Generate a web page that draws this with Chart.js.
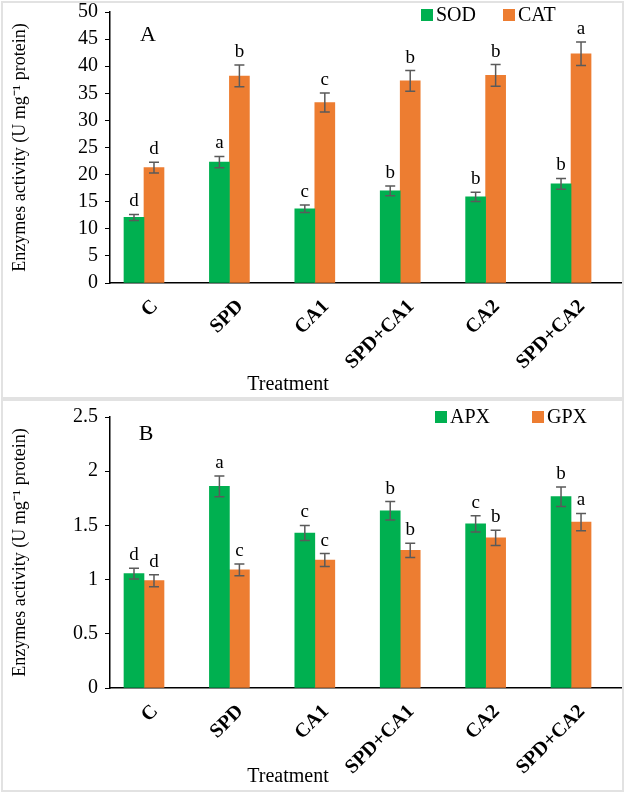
<!DOCTYPE html>
<html><head><meta charset="utf-8">
<script src="https://cdn.jsdelivr.net/npm/chart.js@4.4.1/dist/chart.umd.min.js"></script>
<style>
html,body{margin:0;padding:0;background:#fff;}
#wrap{position:relative;width:625px;height:793px;overflow:hidden;background:#fff;}
.frame{position:absolute;border:2px solid #e2e2e2;box-sizing:border-box;}
canvas{position:absolute;left:0;}
</style></head><body>
<div id="wrap">
<div class="frame" style="left:1px;top:1px;width:623px;height:398px"></div>
<div class="frame" style="left:1px;top:399px;width:623px;height:393px"></div>
<canvas id="cA" width="625" height="398" style="top:0"></canvas>
<canvas id="cB" width="625" height="395" style="top:398px"></canvas>
</div>
<script>
// ---------- data ----------
const categories = ['C', 'SPD', 'CA1', 'SPD+CA1', 'CA2', 'SPD+CA2'];

const sodValues  = [12.1, 22.3, 13.7, 17.0, 15.9, 18.3];
const sodErrors  = [0.55, 1.05, 0.7, 0.9, 0.85, 1.0];
const sodLetters = ['d', 'a', 'c', 'b', 'b', 'b'];

const catValues  = [21.3, 38.2, 33.3, 37.3, 38.3, 42.3];
const catErrors  = [1.0, 2.0, 1.75, 1.9, 2.0, 2.15];
const catLetters = ['d', 'b', 'c', 'b', 'b', 'a'];

const apxValues  = [1.055, 1.86, 1.43, 1.635, 1.515, 1.765];
const apxErrors  = [0.05, 0.095, 0.07, 0.085, 0.075, 0.09];
const apxLetters = ['d', 'a', 'c', 'b', 'c', 'b'];

const gpxValues  = [0.99, 1.09, 1.18, 1.27, 1.385, 1.53];
const gpxErrors  = [0.055, 0.055, 0.06, 0.065, 0.07, 0.08];
const gpxLetters = ['d', 'c', 'c', 'b', 'b', 'a'];

const yTicksA = [0, 5, 10, 15, 20, 25, 30, 35, 40, 45, 50];
const yTicksB = [0, 0.5, 1, 1.5, 2, 2.5];

const yTitle = 'Enzymes activity (U mg\u207B\u00B9 protein)';
const xTitle = 'Treatment';

// ---------- styling ----------
const SERIF = '"Liberation Serif", "Times New Roman", Times, serif';
const GREEN = '#00b050';
const ORANGE = '#ed7d31';
Chart.defaults.font.family = SERIF;
Chart.defaults.color = '#000';

const extras = {
  id: 'extras',
  afterDatasetsDraw(chart, args, opts) {
    const ctx = chart.ctx;
    const ys = chart.scales.y;
    ctx.save();
    chart.data.datasets.forEach((ds, di) => {
      const meta = chart.getDatasetMeta(di);
      meta.data.forEach((bar, i) => {
        const v = ds.data[i].y;
        const e = ds.errors[i];
        const yt = ys.getPixelForValue(v + e);
        const yb = ys.getPixelForValue(v - e);
        const x = bar.x;
        ctx.strokeStyle = '#5a5a5a';
        ctx.lineWidth = 1.5;
        ctx.beginPath();
        ctx.moveTo(x, yt); ctx.lineTo(x, yb);
        ctx.moveTo(x - 5, yt); ctx.lineTo(x + 5, yt);
        ctx.moveTo(x - 5, yb); ctx.lineTo(x + 5, yb);
        ctx.stroke();
        ctx.fillStyle = '#000';
        ctx.font = '19px ' + SERIF;
        ctx.textAlign = 'center';
        ctx.textBaseline = 'alphabetic';
        ctx.fillText(ds.letters[i], x, yt - 8);
      });
    });
    ctx.restore();
  },
  afterDraw(chart, args, opts) {
    const ctx = chart.ctx;
    ctx.save();
    // legend
    ctx.font = '20px ' + SERIF;
    ctx.textBaseline = 'middle';
    ctx.textAlign = 'left';
    chart.data.datasets.forEach((ds, di) => {
      const lx = opts.legendX[di];
      ctx.fillStyle = ds.backgroundColor;
      ctx.fillRect(lx, opts.legendY - 6, 12, 12);
      ctx.fillStyle = '#000';
      ctx.fillText(ds.label, lx + 15, opts.legendY + 1);
    });
    // panel letter
    ctx.font = '22px ' + SERIF;
    ctx.textAlign = 'center';
    ctx.fillText(opts.panel, opts.panelX, opts.panelY);
    // x title
    ctx.font = '20px ' + SERIF;
    ctx.fillText(xTitle, opts.titleX, opts.titleY);
    ctx.restore();
  }
};

function makeChart(id, s1, s2, yTicks, yMax, ext) {
  const ds = (label, vals, errs, lets, color) => ({
    label, data: vals.map((v, i) => ({x: i, y: v})),
    errors: errs, letters: lets,
    backgroundColor: color, borderWidth: 0, barThickness: 20
  });
  return new Chart(document.getElementById(id), {
    type: 'bar',
    data: { datasets: [ds(...s1, GREEN), ds(...s2, ORANGE)] },
    options: {
      responsive: false, animation: false,
      layout: { padding: { left: 5, right: 4, top: ext.top, bottom: 0 } },
      plugins: { legend: { display: false }, tooltip: { enabled: false }, extras: ext },
      scales: {
        x: {
          type: 'linear', min: -0.398, max: 5.585, offset: false, bounds: 'data',
          afterBuildTicks: s => { s.ticks = categories.map((c, i) => ({ value: i })); },
          afterFit: s => { s.height = ext.xh; s.paddingLeft = 0; s.paddingRight = 0; },
          ticks: {
            autoSkip: false, minRotation: 45, maxRotation: 45,
            labelOffset: 11, padding: 4,
            font: { size: 20, weight: 'bold', family: SERIF }, color: '#000',
            callback: v => categories[v]
          },
          grid: { display: false, offset: false },
          border: { color: '#000', width: 1.5 }
        },
        y: {
          min: 0, max: yMax,
          afterBuildTicks: s => { s.ticks = yTicks.map(v => ({ value: v })); },
          afterFit: s => { s.width = 105; s.paddingTop = 0; s.paddingBottom = 0; },
          ticks: { font: { size: 20, family: SERIF }, color: '#000', padding: 7,
                   callback: v => String(v) },
          grid: { drawOnChartArea: false, drawTicks: true, tickLength: 5, color: '#000', lineWidth: 1 },
          border: { color: '#000', width: 1.5 },
          title: { display: true, text: yTitle, font: { size: 18, family: SERIF }, color: '#000',
                   padding: { top: 4, bottom: 0 } }
        }
      }
    },
    plugins: [extras]
  });
}

makeChart('cA',
  ['SOD', sodValues, sodErrors, sodLetters],
  ['CAT', catValues, catErrors, catLetters],
  yTicksA, 50,
  { top: 12, xh: 115, legendX: [421, 503], legendY: 15, panel: 'A', panelX: 148, panelY: 35,
    titleX: 288, titleY: 385 });

makeChart('cB',
  ['APX', apxValues, apxErrors, apxLetters],
  ['GPX', gpxValues, gpxErrors, gpxLetters],
  yTicksB, 2.5,
  { top: 19, xh: 105, legendX: [435, 532], legendY: 19, panel: 'B', panelX: 146, panelY: 36,
    titleX: 288, titleY: 379 });
</script>
</body></html>
